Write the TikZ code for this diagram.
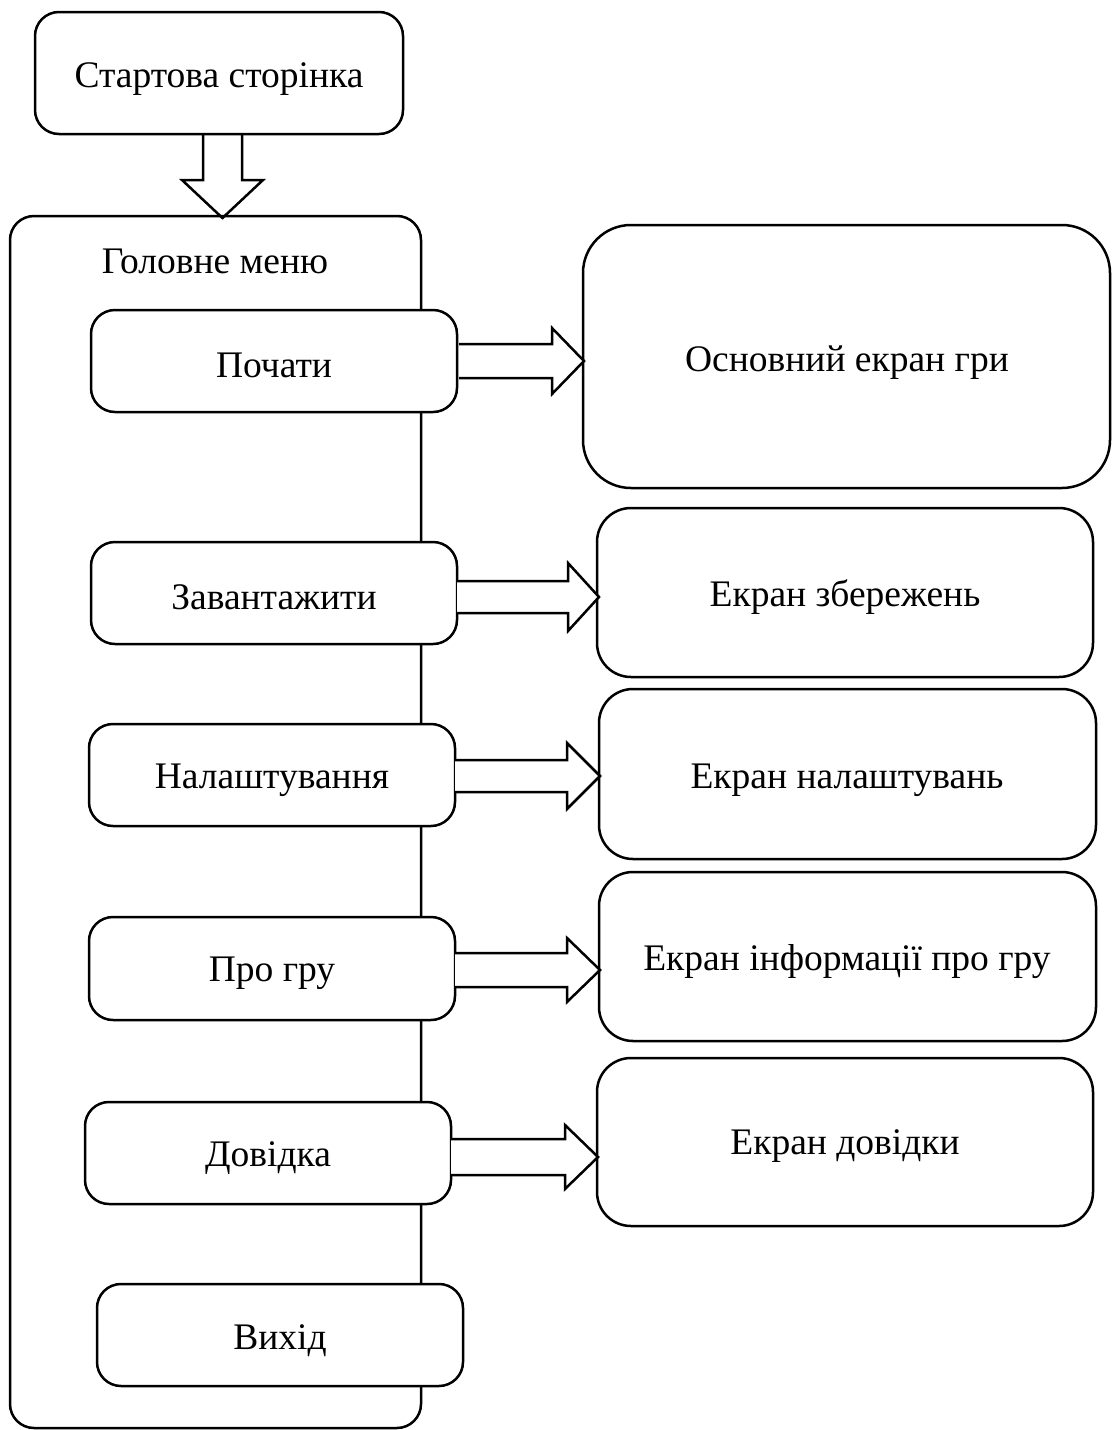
\documentclass[tikz,border=0pt]{standalone}
\usepackage{fontspec}
\setmainfont{Liberation Serif}
\usetikzlibrary{calc}
\tikzset{
  box/.style={draw, line width=2.5pt, rounded corners=24pt},
  btn/.style={box, fill=white},
  lbl/.style={font=\fontsize{37.5}{44}\selectfont, yshift=-3pt},
  barrow/.style={draw, line width=2.5pt, fill=white, line join=miter},
}
% right block arrow: xstart, xtip, ycenter, shaft half, head half, head length
\newcommand{\blockR}[6]{%
  \draw[barrow] (#1,#3-#4) -- (#2-#6,#3-#4) -- (#2-#6,#3-#5) -- (#2,#3)
     -- (#2-#6,#3+#5) -- (#2-#6,#3+#4) -- (#1,#3+#4);}
\begin{document}
\begin{tikzpicture}[x=1pt,y=-1pt]
\useasboundingbox (0,0) rectangle (1112,1430);
% down arrow
\draw[barrow] (203,134) -- (203,180) -- (182,180) -- (222.5,218) -- (263,180) -- (242,180) -- (242,134);
% start page
\draw[box] (35,12) rectangle (403,134);
\node[lbl] (start) at (219,76) {Стартова сторінка};
% main menu
\draw[box] (10,216) rectangle (421,1428);
\node[lbl] (menu) at (215,258) {Головне меню};
% buttons
\draw[btn] (91,310) rectangle (457,412);
\node[lbl] (b1) at (274,362) {Почати};
\draw[btn] (91,542) rectangle (457,644);
\node[lbl] (b2) at (274,594) {Завантажити};
\draw[btn] (89,724) rectangle (455,826);
\node[lbl] (b3) at (272,777) {Налаштування};
\draw[btn] (89,917) rectangle (455,1020);
\node[lbl] (b4) at (272,970) {Про гру};
\draw[btn] (85,1102) rectangle (451,1204);
\node[lbl] (b5) at (268,1155) {Довідка};
\draw[btn] (97,1284) rectangle (463,1386);
\node[lbl] (b6) at (280,1338) {Вихід};
% right screens
\draw[box,rounded corners=48pt] (583,225) rectangle (1110,488);
\node[lbl] (s1) at (847,360) {Основний екран гри};
\draw[box,rounded corners=34pt] (597,508) rectangle (1093,677);
\node[lbl] (s2) at (845,594) {Екран збережень};
\draw[box,rounded corners=34pt] (599,689) rectangle (1096,859);
\node[lbl] (s3) at (847,777) {Екран налаштувань};
\draw[box,rounded corners=34pt] (599,872) rectangle (1096,1041);
\node[lbl] (s4) at (847,959) {Екран інформації про гру};
\draw[box,rounded corners=34pt] (597,1058) rectangle (1093,1226);
\node[lbl] (s5) at (845,1143) {Екран довідки};
% side arrows
\blockR{459}{584}{361}{17}{33}{32}
\blockR{457}{599}{597}{16}{34}{31}
\blockR{455}{600}{776}{16}{33}{33}
\blockR{455}{600}{970}{17}{32}{33}
\blockR{451}{598}{1157}{18}{32}{33}
\end{tikzpicture}
\end{document}
